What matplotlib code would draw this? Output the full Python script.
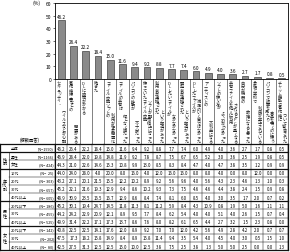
import matplotlib
matplotlib.use("Agg")
import matplotlib.pyplot as plt

plt.rcParams['font.family'] = ['Noto Sans CJK JP', 'DejaVu Sans']

# ---------------- data ----------------
cat_line1 = ["セキュリティ・", "著作権侵害などの", "DLに時間がかかる", "飽きた",
             "ファイル交換ソフトの", "ファイルの共有は", "パソコンの性能が",
             "使っていたファイル交換", "利用者が逮捕された", "DLしたいファイルが",
             "開発者が逮捕された", "DLしたファイルが", "アーティストの",
             "ソフトの使い方が", "共有ファイルを他人に利用", "自分が機器の",
             "会社や学校で", "パソコンで映画を見たり", "チャット機能で著作権に"]
cat_line2 = ["ウィルスなどが心配", "問題がある", "", "",
             "利用が社会問題化", "何となく嫌だった", "不十分だった",
             "ソフトが配布停止になった", "という報道があった", "なかなかなかった",
             "という報道があった", "満足のいく質ではなかった", "不利益になる",
             "よくわからなかった", "されるとPCが重くなる", "故障になると思った",
             "利用が禁止されている", "音楽を聴くのに使う", "ついて警告された"]

overall = [46.2, 26.4, 22.2, 18.4, 15.0, 11.6, 9.4, 9.2, 8.8, 7.7, 7.4, 6.0,
           4.9, 4.0, 3.6, 2.7, 1.7, 0.8, 0.5]

row_labels = ["全体", "男性", "女性", "10代", "20代", "30代", "40代以上",
              "20代以下", "30代", "40代以上", "20代以下", "30代", "40代以上"]
row_n = [1590, 1166, 424, 25, 303, 657, 605, 186, 455, 525, 142, 202, 80]

group_labels = ["性別", "年代別", "男性", "女性"]
group_rows = [(1, 2), (3, 6), (7, 9), (10, 12)]

t_all = overall
t_male = [46.9, 28.4, 22.0, 19.8, 14.8, 11.9, 9.2, 7.8, 8.7, 7.5, 6.7, 6.5, 5.2, 3.0, 3.6, 2.5, 1.9, 0.8, 0.5]
t_female = [44.3, 21.0, 22.6, 14.6, 15.3, 10.8, 9.9, 13.0, 8.5, 8.3, 8.4, 4.7, 4.0, 4.7, 3.8, 3.5, 1.2, 0.9, 0.9]
t_10s = [44.0, 24.0, 28.0, 4.0, 20.0, 8.0, 16.0, 4.0, 12.0, 16.0, 16.0, 8.0, 8.0, 4.0, 0.0, 8.0, 12.0, 0.0, 0.0]
t_20s = [43.2, 27.1, 20.1, 21.5, 15.5, 12.2, 10.2, 8.9, 9.2, 5.6, 9.6, 4.0, 5.6, 4.3, 2.3, 4.6, 1.3, 1.0, 0.3]
t_30s = [45.2, 22.1, 21.6, 19.3, 12.9, 9.4, 8.6, 10.2, 9.3, 7.3, 7.5, 4.6, 4.6, 4.4, 3.8, 2.4, 1.5, 0.9, 0.8]
t_40s = [48.9, 30.9, 23.5, 16.5, 16.7, 12.9, 8.6, 8.4, 7.4, 8.1, 6.0, 8.5, 4.0, 3.0, 3.5, 1.7, 2.0, 0.7, 0.2]
t_m20 = [45.2, 30.1, 19.4, 24.7, 14.5, 11.8, 11.3, 8.1, 11.2, 5.9, 8.4, 4.3, 10.9, 0.8, 1.9, 5.0, 1.6, 1.1, 1.1]
t_m30 = [44.2, 24.2, 22.9, 20.9, 12.1, 8.9, 9.5, 7.7, 8.4, 6.2, 5.4, 4.0, 4.0, 5.1, 4.0, 2.6, 1.5, 0.7, 0.4]
t_m40 = [49.9, 31.4, 22.2, 17.1, 17.3, 13.7, 8.6, 7.6, 8.0, 8.2, 6.1, 6.5, 4.4, 2.7, 3.2, 1.5, 2.3, 0.8, 0.0]
t_f20 = [40.8, 22.5, 22.5, 14.1, 17.6, 12.0, 8.9, 9.2, 7.0, 7.0, 12.0, 4.2, 5.6, 4.9, 2.8, 4.2, 2.0, 0.7, 0.7]
t_f30 = [47.5, 17.3, 18.2, 15.8, 14.9, 8.4, 8.9, 15.8, 11.4, 9.4, 3.5, 5.4, 4.0, 4.5, 4.0, 3.0, 0.5, 1.5, 1.0]
t_f40 = [42.5, 27.5, 31.3, 12.5, 12.5, 15.0, 10.0, 12.5, 3.8, 7.5, 2.5, 3.8, 1.3, 5.0, 5.0, 2.5, 0.0, 0.0, 1.3]
table = [t_all, t_male, t_female, t_10s, t_20s, t_30s, t_40s,
         t_m20, t_m30, t_m40, t_f20, t_f30, t_f40]

yticks = [0, 10, 20, 30, 40, 50, 60]

# ---------------- layout ----------------
W, H = 290, 253
fig = plt.figure(figsize=(W / 100, H / 100), dpi=100)
ov = fig.add_axes([0, 0, 1, 1])
ov.set_xlim(0, W)
ov.set_ylim(H, 0)
ov.axis('off')

x0, x1 = 55, 288
ytop, ybot = 4, 80
ax = fig.add_axes([x0 / W, 1 - ybot / H, (x1 - x0) / W, (ybot - ytop) / H])
n = len(overall)
ax.bar(range(n), overall, width=0.55, color='#8a8a8a', edgecolor='#222222', linewidth=0.4)
ax.set_xlim(-0.5, n - 0.5)
ax.set_ylim(0, 60)
ax.set_yticks(yticks)
ax.set_xticks([])
ax.tick_params(axis='y', labelsize=3.6, length=1.5, width=0.4, pad=1)
for s in ax.spines.values():
    s.set_linewidth(0.6)
for i, v in enumerate(overall):
    ax.text(i, v + 1.2, f"{v:.1f}", ha='center', va='bottom', fontsize=3.4)
ov.text(37, 3.5, "(%)", fontsize=3.6, ha='center', va='center')

cw = (x1 - x0) / n
lab_top, lab_bot = ybot, 145
fs = 3.0
for i in range(n):
    cx = x0 + i * cw
    l1, l2 = cat_line1[i], cat_line2[i]
    ov.text(cx + cw * 0.32, lab_top + 1.5, "\n".join(l1), fontsize=fs, ha='center',
            va='top', linespacing=0.85, color='#222')
    if l2:
        ov.text(cx + cw * 0.70, lab_bot - 1.5, "\n".join(l2), fontsize=fs, ha='center',
                va='bottom', linespacing=0.85, color='#222')
ov.text(30, 140, "(複数回答)", fontsize=3.1, ha='center', va='center')

# vertical lines in label area
for i in range(n + 1):
    ov.plot([x0 + i * cw] * 2, [lab_top, lab_bot], color='#222', lw=0.4)

# table
rh = 8.17
t0 = lab_bot
nr = len(table)
tb = t0 + nr * rh
for r in range(nr):
    yc = t0 + (r + 0.5) * rh
    for c in range(n):
        ov.text(x0 + (c + 0.5) * cw, yc, f"{table[r][c]:.1f}", fontsize=3.1,
                ha='center', va='center')
    ov.text(10.5, yc, row_labels[r], fontsize=2.8, ha='left', va='center')
    ov.text(54, yc, f"(N={row_n[r]:>4})", fontsize=2.7, ha='right', va='center')

thick_after = {0, 2, 6, 9}
for r in range(nr + 1):
    y = t0 + r * rh
    lw = 0.9 if (r == 0 or r == nr or (r - 1) in thick_after) else 0.35
    xs = 0 if lw > 0.5 else 9
    ov.plot([xs, x1], [y, y], color='#111', lw=lw)
for i in range(n + 1):
    ov.plot([x0 + i * cw] * 2, [t0, tb], color='#111', lw=0.35)
ov.plot([0, 0], [t0, tb], color='#111', lw=0.9)
ov.plot([x1, x1], [t0, tb], color='#111', lw=0.9)
ov.plot([x0, x0], [t0, tb], color='#111', lw=0.8)
ov.plot([9, 9], [t0 + rh, tb], color='#111', lw=0.4)
for g, (ra, rb) in zip(group_labels, group_rows):
    yc = t0 + (ra + rb + 1) / 2 * rh
    ov.text(4.5, yc, "\n".join(g), fontsize=3.0, ha='center', va='center', linespacing=0.95)

fig.savefig("out.png", dpi=100)
